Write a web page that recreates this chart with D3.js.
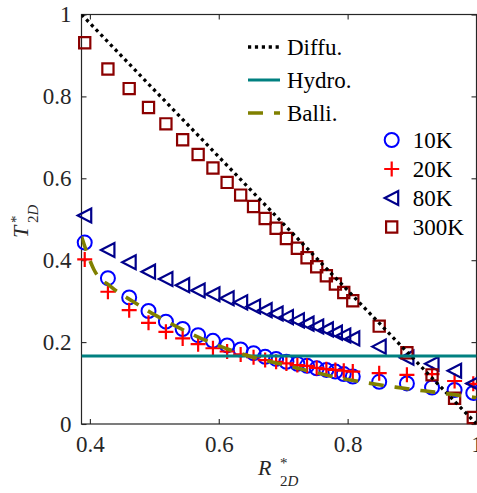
<!DOCTYPE html>
<html>
<head>
<meta charset="utf-8">
<script src="https://cdn.jsdelivr.net/npm/d3@7"></script>
</head>
<body style="margin:0; font-family: 'Liberation Serif', serif;">
<div id="chart"></div>
<script>
// R*_2D positions shared by all temperature series
const rVals = [0.392, 0.428, 0.461, 0.491, 0.518, 0.544, 0.568, 0.591, 0.613, 0.634, 0.654, 0.672, 0.689,
               0.705, 0.722, 0.737, 0.752, 0.767, 0.781, 0.794, 0.808, 0.849, 0.892, 0.931, 0.966, 0.995];
const t10K  = [0.443, 0.356, 0.309, 0.276, 0.250, 0.232, 0.217, 0.203, 0.192, 0.182, 0.173, 0.164, 0.159,
               0.152, 0.147, 0.142, 0.136, 0.132, 0.128, 0.122, 0.116, 0.103, 0.099, 0.089, 0.083, 0.076];
const t20K  = [0.402, 0.323, 0.278, 0.247, 0.225, 0.209, 0.195, 0.185, 0.177, 0.170, 0.163, 0.156, 0.152,
               0.148, 0.144, 0.142, 0.137, 0.134, 0.132, 0.130, 0.128, 0.124, 0.120, 0.122, 0.105, 0.098];
const t80K  = [0.509, 0.425, 0.395, 0.372, 0.354, 0.339, 0.326, 0.317, 0.307, 0.297, 0.287, 0.278, 0.270,
               0.261, 0.253, 0.245, 0.238, 0.231, 0.223, 0.216, 0.209, 0.189, 0.162, 0.147, 0.130, 0.099];
const t300K = [0.931, 0.867, 0.819, 0.773, 0.733, 0.694, 0.658, 0.625, 0.590, 0.559, 0.531, 0.502, 0.478,
               0.453, 0.429, 0.406, 0.384, 0.362, 0.342, 0.321, 0.301, 0.239, 0.174, 0.120, 0.063, 0.016];

// model curves
const diffuR = [0.387, 1.0];
const diffuT = [1.0, 0.0];
const hydroT = 0.166;
const balliR = [0.387, 0.394, 0.406, 0.433, 0.467, 0.500, 0.537, 0.589, 0.625, 0.667, 0.708, 0.747, 0.789,
                0.832, 0.874, 0.918, 0.959, 1.0];
const balliT = [0.458, 0.425, 0.378, 0.335, 0.299, 0.267, 0.236, 0.198, 0.177, 0.157, 0.142, 0.127, 0.112,
                0.100, 0.090, 0.081, 0.073, 0.064];

const xTicks = [0.4, 0.6, 0.8, 1];
const yTicks = [0, 0.2, 0.4, 0.6, 0.8, 1];
const lineNames = ["Diffu.", "Hydro.", "Balli."];
const markerNames = ["10K", "20K", "80K", "300K"];

const w = 477, h = 493;
const ink = "#262626";

const svg = d3.select("#chart").append("svg")
  .attr("width", w)
  .attr("height", h)
  .attr("font-family", "Liberation Serif, serif")
  .style("display", "block");

const x = d3.scaleLinear().domain([0.387, 1]).range([81.5, 476.5]);
const y = d3.scaleLinear().domain([0, 1]).range([424, 14.5]);

svg.append("clipPath").attr("id", "plotArea")
  .append("rect")
  .attr("x", x.range()[0]).attr("y", y.range()[1])
  .attr("width", x.range()[1] - x.range()[0])
  .attr("height", y.range()[0] - y.range()[1]);

// axes, ticks inward on all four sides; drop d3's own sans-serif font
function styleAxis(g) {
  g.attr("font-family", null).attr("font-size", 23);
  g.select(".domain").remove();
  g.selectAll("line").attr("stroke", ink).attr("stroke-width", 1.1);
  g.selectAll("text").attr("fill", ink);
}
const fmt = d3.format("~g");
svg.append("g").attr("transform", "translate(0," + y(0) + ")")
  .call(d3.axisBottom(x).tickValues(xTicks).tickSize(-5).tickPadding(12).tickFormat(fmt))
  .call(styleAxis);
svg.append("g").attr("transform", "translate(0," + y(1) + ")")
  .call(d3.axisTop(x).tickValues(xTicks).tickSize(-5).tickFormat(""))
  .call(styleAxis);
svg.append("g").attr("transform", "translate(" + x(0.387) + ",0)")
  .call(d3.axisLeft(y).tickValues(yTicks).tickSize(-5).tickPadding(10).tickFormat(fmt))
  .call(styleAxis);
svg.append("g").attr("transform", "translate(" + x(1) + ",0)")
  .call(d3.axisRight(y).tickValues(yTicks).tickSize(-5).tickFormat(""))
  .call(styleAxis);

svg.append("rect")
  .attr("x", x(0.387)).attr("y", y(1))
  .attr("width", x(1) - x(0.387)).attr("height", y(0) - y(1))
  .attr("fill", "none").attr("stroke", ink).attr("stroke-width", 1.2);

// markers
const series = [
  { vals: t10K, color: "#0000ff", kind: "circle" },
  { vals: t20K, color: "#ff0000", kind: "plus" },
  { vals: t80K, color: "#00008b", kind: "tri" },
  { vals: t300K, color: "#8b0000", kind: "square" }
];
const shapes = {
  circle: "M7,0A7,7 0 1,1 -7,0A7,7 0 1,1 7,0Z",
  plus: "M-7.5,0H7.5M0,-7.5V7.5",
  tri: "M-7,0L6.5,-7L6.5,7Z",
  square: "M-5.6,-5.6H5.6V5.6H-5.6Z"
};
series.forEach(function(s) {
  svg.append("g").selectAll("path")
    .data(rVals.map(function(r, i) { return [r, s.vals[i]]; }))
    .enter().append("path")
    .attr("transform", function(d) { return "translate(" + x(d[0]) + "," + y(d[1]) + ")"; })
    .attr("d", shapes[s.kind])
    .attr("fill", "none")
    .attr("stroke", s.color)
    .attr("stroke-width", s.kind === "circle" ? 2 : 2.2);
});

// model lines
const line = d3.line().x(function(d) { return x(d[0]); }).y(function(d) { return y(d[1]); });
const lines = svg.append("g").attr("clip-path", "url(#plotArea)");

lines.append("path")
  .attr("d", line(diffuR.map(function(r, i) { return [r, diffuT[i]]; })))
  .attr("fill", "none").attr("stroke", "#000").attr("stroke-width", 3.3)
  .attr("stroke-dasharray", "3.2,3.7");

lines.append("path")
  .attr("d", line([[0.387, hydroT], [1, hydroT]]))
  .attr("fill", "none").attr("stroke", "#008080").attr("stroke-width", 3);

lines.append("path")
  .attr("d", line.curve(d3.curveMonotoneX)(balliR.map(function(r, i) { return [r, balliT[i]]; })))
  .attr("fill", "none").attr("stroke", "#808000").attr("stroke-width", 3.6)
  .attr("stroke-dasharray", "15,11");

// legend: model lines
const lineStyles = [
  { color: "#000", dash: "3.2,3.7", width: 3.3 },
  { color: "#008080", dash: null, width: 3 },
  { color: "#808000", dash: "15,11", width: 3.6 }
];
lineNames.forEach(function(name, i) {
  const cy = 47 + i * 33;
  svg.append("line")
    .attr("x1", 248).attr("x2", 280).attr("y1", cy).attr("y2", cy)
    .attr("stroke", lineStyles[i].color)
    .attr("stroke-width", lineStyles[i].width)
    .attr("stroke-dasharray", lineStyles[i].dash);
  svg.append("text")
    .attr("x", 287).attr("y", cy + 7.5)
    .attr("font-size", 23).attr("fill", "#000")
    .text(name);
});

// legend: temperatures
markerNames.forEach(function(name, i) {
  const cy = 140 + i * 29;
  svg.append("path")
    .attr("transform", "translate(391.7," + cy + ")")
    .attr("d", shapes[series[i].kind])
    .attr("fill", "none").attr("stroke", series[i].color)
    .attr("stroke-width", series[i].kind === "circle" ? 2 : 2.2);
  svg.append("text")
    .attr("x", 412.7).attr("y", cy + 7.5)
    .attr("font-size", 23).attr("fill", "#000")
    .text(name);
});

// axis labels
const xl = svg.append("text").attr("font-size", 22).attr("fill", ink);
xl.append("tspan").attr("x", 258).attr("y", 475).attr("font-style", "italic").text("R");
xl.append("tspan").attr("x", 280).attr("y", 468).attr("font-size", 15).text("*");
xl.append("tspan").attr("x", 280).attr("y", 486).attr("font-size", 15).text("2");
xl.append("tspan").attr("font-size", 15).attr("font-style", "italic").text("D");

const yl = svg.append("text").attr("font-size", 22).attr("fill", ink)
  .attr("transform", "translate(28,238) rotate(-90)");
yl.append("tspan").attr("x", 0).attr("y", 0).attr("font-style", "italic").text("T");
yl.append("tspan").attr("x", 15).attr("y", -7).attr("font-size", 15).text("*");
yl.append("tspan").attr("x", 15).attr("y", 10).attr("font-size", 15).text("2");
yl.append("tspan").attr("font-size", 15).attr("font-style", "italic").text("D");
</script>
</body>
</html>
